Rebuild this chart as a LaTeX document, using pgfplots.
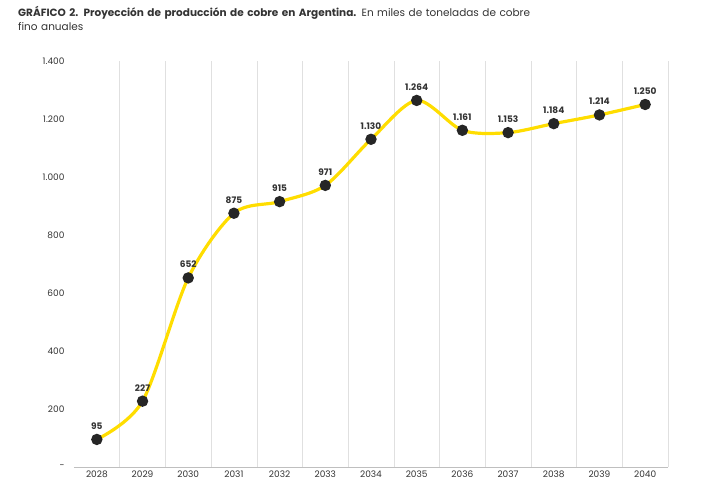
\documentclass[border=0pt]{standalone}
\usepackage{pgfplots}
\pgfplotsset{compat=1.18}
\usepackage{fontspec}
\setmainfont{Poppins}
\definecolor{ylw}{HTML}{FFDD00}
\definecolor{txt}{HTML}{333333}
\begin{document}
\begin{tikzpicture}[x=1pt,y=1pt]
\useasboundingbox (-74,-27) rectangle (650,467);
\begin{axis}[at={(0,0)},anchor=south west,scale only axis,width=594pt,height=406pt,
 xmin=-0.5,xmax=12.5,ymin=0,ymax=1400,
 xtick={0,...,12},xticklabels={2028,2029,2030,2031,2032,2033,2034,2035,2036,2037,2038,2039,2040},
 minor xtick={0.5,1.5,...,12.5},minor x grid style={draw=black!12},xminorgrids,
 ytick={0,200,...,1400},yticklabels={-,200,400,600,800,1.000,1.200,1.400},
 axis x line*=bottom, axis y line*=left, x axis line style={draw=black!25},y axis line style={draw=none},
 yticklabel style={xshift=-6pt},
 major tick length=0pt,minor tick length=0pt,
 tick label style={font=\fontsize{9}{10}\selectfont,text=txt},
 clip=false]
\addplot[ylw,line width=3.2pt,smooth,tension=0.5,mark=*,mark size=4pt,mark options={fill=black!85,draw=black!85},
 nodes near coords,point meta=explicit symbolic,
 every node near coord/.style={font=\bfseries\fontsize{9}{10}\selectfont,text=txt,yshift=5pt}]
 coordinates {(0,95)[95] (1,227)[227] (2,652)[652] (3,875)[875] (4,915)[915] (5,971)[971] (6,1130)[1.130] (7,1264)[1.264] (8,1161)[1.161] (9,1153)[1.153] (10,1184)[1.184] (11,1214)[1.214] (12,1250)[1.250]};
\end{axis}
\node[anchor=north west,align=left,text width=640pt,font=\fontsize{10.5}{14}\selectfont,text=txt,inner sep=0pt] at (-56,461)
 {\textbf{GRÁFICO 2. Proyección de producción de cobre en Argentina.} En miles de toneladas de cobre\\ fino anuales};
\end{tikzpicture}
\end{document}
